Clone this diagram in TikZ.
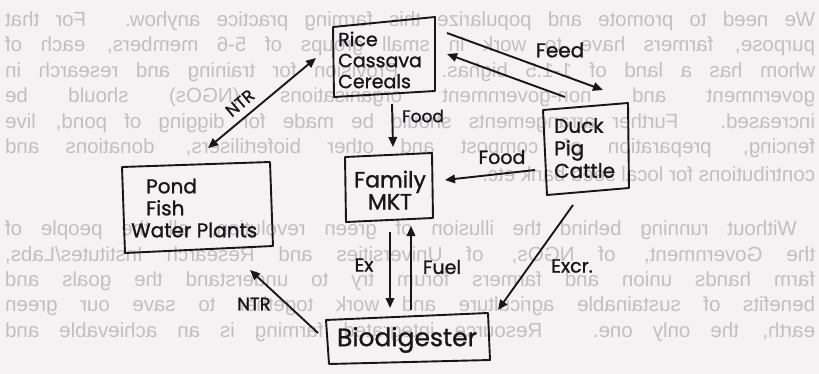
\documentclass[tikz,border=0pt]{standalone}
\usepackage{fontspec}
\usepackage{graphicx}
\setmainfont{Liberation Sans}
\newfontfamily\handfont[FakeBold=1.2]{Poppins}
\usetikzlibrary{arrows.meta}
\definecolor{paper}{RGB}{246,242,244}
\definecolor{ghost}{RGB}{194,190,194}
\definecolor{ink}{RGB}{24,22,24}
\newcommand\hs[2]{\handfont\fontsize{#1}{#2}\selectfont}
\newcommand\gl[1]{\scalebox{-1}[1]{\makebox[810pt][s]{#1}}}
\begin{document}
\begin{tikzpicture}[x=1pt,y=-1pt,
  boxline/.style={draw=ink, line width=1.9pt, line join=round},
  conn/.style={draw=ink, line width=1.9pt, -{Triangle[length=10pt,width=8.5pt]}},
  dconn/.style={draw=ink, line width=1.9pt, {Triangle[length=10pt,width=8.5pt]}-{Triangle[length=10pt,width=8.5pt]}},
  lbl/.style={text=ink, inner sep=0pt},
  ghostline/.style={text=ghost, font=\fontsize{20.5}{24}\selectfont, inner sep=0pt},
]
\fill[paper] (0,0) rectangle (819,374);
\useasboundingbox (0,0) rectangle (819,374);

% show-through text of the reverse page (mirrored)
\node[ghostline] (g1) at (410,21) {\gl{We need to promote and popularize this farming practice anyhow. For that}};
\node[ghostline] (g2) at (410,46.5) {\gl{purpose, farmers have to work in small groups of 5-6 members, each of}};
\node[ghostline] (g3) at (410,72) {\gl{whom has a land of 1-1.5 bighas. Provision for training and research in}};
\node[ghostline] (g4) at (410,97.5) {\gl{government and non-government organisations (NGOs) should be}};
\node[ghostline] (g5) at (410,123) {\gl{increased. Further arrangements should be made for digging of pond, live}};
\node[ghostline] (g6) at (410,148.5) {\gl{fencing, preparation of compost and other biofertilisers, donations and}};
\node[ghostline] (g7) at (410,174) {\scalebox{-1}[1]{\makebox[810pt][l]{contributions for local seed bank etc.}}};
\node[ghostline] (g8) at (410,230) {\gl{\hspace*{18pt}Without running behind the illusion of green revolution, all the people of}};
\node[ghostline] (g9) at (410,255.5) {\gl{the Government, of NGOs, of Universities and Research Institutes/Labs,}};
\node[ghostline] (g10) at (410,281) {\gl{farm hands union and farmers forum try to understand the goals and}};
\node[ghostline] (g11) at (410,306.5) {\gl{benefits of sustainable agriculture and work together to save our green}};
\node[ghostline] (g12) at (410,332) {\gl{earth, the only one. Resource integrated farming is an achievable and}};

% boxes
\draw[boxline] (333,27) -- (435,17) -- (435,91) -- (334,97) -- cycle;
\draw[boxline] (543,110) -- (628,103) -- (629,188) -- (547,195) -- cycle;
\draw[boxline] (345,157) -- (432,153) -- (433,218) -- (346,222) -- cycle;
\draw[boxline] (122,167) -- (270,162) -- (273,246) -- (125,253) -- cycle;
\draw[boxline] (326,320) -- (488,313) -- (490,360) -- (329,364) -- cycle;

% box texts
\node[lbl, font=\hs{19}{21}, align=left, anchor=west] (rice) at (338,60) {Rice\\Cassava\\Cereals};
\node[lbl, font=\hs{20}{22.5}, align=left, anchor=west] (duck) at (554,148) {Duck\\Pig\\Cattle};
\node[lbl, font=\hs{22}{22}, align=center] (family) at (390,190) {Family\\MKT};
\node[lbl, font=\hs{20}{22}, align=left, anchor=west] (pond) at (131,208) {\hspace*{15pt}Pond\\\hspace*{15pt}Fish\\Water Plants};
\node[lbl, font=\hs{25}{25}] (bio) at (407,340) {Biodigester};

% connector end points
\coordinate (feedAs) at (447,33);  \coordinate (feedAe) at (603,90);
\coordinate (feedBs) at (565,97);  \coordinate (feedBe) at (447,54);
\coordinate (foodAs) at (392,104); \coordinate (foodAe) at (393,147);
\coordinate (foodBs) at (535,170); \coordinate (foodBe) at (445,180);
\coordinate (ntrAs) at (208,148);  \coordinate (ntrAe) at (316,58);
\coordinate (exs) at (390,232);    \coordinate (exe) at (390,308);
\coordinate (fuels) at (411,310);  \coordinate (fuele) at (411,226);
\coordinate (excrs) at (573,205);  \coordinate (excre) at (498,310);
\coordinate (ntrBs) at (318,333);  \coordinate (ntrBe) at (250,270);

\draw[conn] (feedAs) -- (feedAe);
\draw[conn] (feedBs) -- (feedBe);
\draw[conn] (foodAs) -- (foodAe);
\draw[conn] (foodBs) -- (foodBe);
\draw[dconn] (ntrAs) -- (ntrAe);
\draw[conn] (exs) -- (exe);
\draw[conn] (fuels) -- (fuele);
\draw[conn] (excrs) -- (excre);
\draw[conn] (ntrBs) -- (ntrBe);

% connector labels
\node[lbl, font=\hs{20}{20}] (lfeed) at (560,50) {Feed};
\node[lbl, font=\hs{17}{17}] (lfoodA) at (423,116) {Food};
\node[lbl, font=\hs{19}{19}] (lfoodB) at (502,157) {Food};
\node[lbl, font=\hs{17}{17}, rotate=40] (lntrA) at (240,103) {NTR};
\node[lbl, font=\hs{19}{19}] (lex) at (364,265) {Ex};
\node[lbl, font=\hs{19}{19}] (lfuel) at (442,267) {Fuel};
\node[lbl, font=\hs{19}{19}] (lexcr) at (572,266) {Excr.};
\node[lbl, font=\hs{18}{18}] (lntrB) at (254,304) {NTR};
\end{tikzpicture}
\end{document}
